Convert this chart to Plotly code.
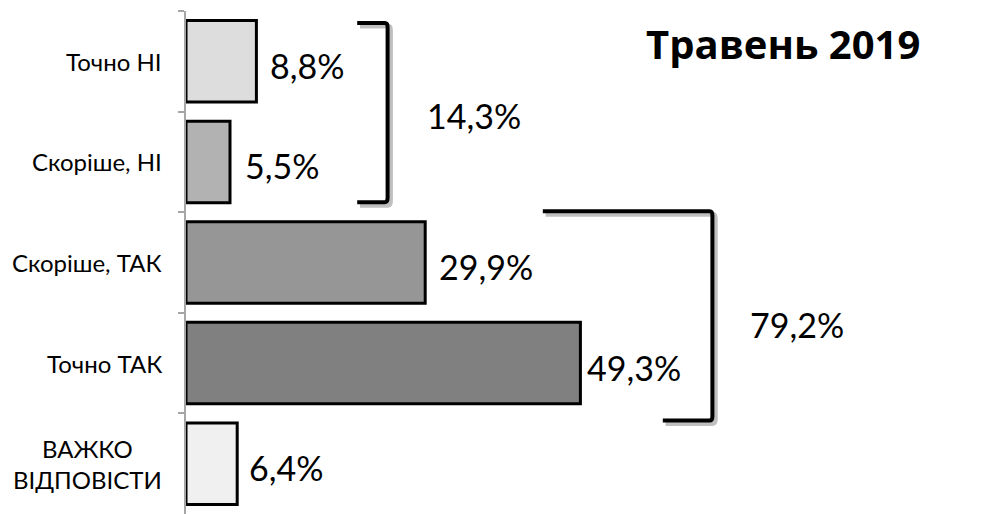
import plotly.graph_objects as go

categories = ["Точно НІ", "Скоріше, НІ", "Скоріше, ТАК", "Точно ТАК", "ВАЖКО<br>ВІДПОВІСТИ"]
values = [8.8, 5.5, 29.9, 49.3, 6.4]
value_labels = ["8,8%", "5,5%", "29,9%", "49,3%", "6,4%"]
bar_colors = ["#dddddd", "#b2b2b2", "#969696", "#808080", "#f0f0f0"]
group_labels = ["14,3%", "79,2%"]
title_text = "Травень 2019"

FONT = "Lato"

fig = go.Figure()
fig.add_trace(go.Bar(
    x=values, y=categories, orientation="h",
    marker=dict(color=bar_colors, line=dict(color="#000000", width=3)),
    width=0.81, hoverinfo="skip", showlegend=False,
))

annotations = []
# value labels
label_shift = [12, 13, 12, 5, 10]
for cat, v, lab, sh in zip(categories, values, value_labels, label_shift):
    annotations.append(dict(
        x=v, y=cat, xref="x", yref="y", text=lab, showarrow=False,
        xanchor="left", yanchor="middle", xshift=sh, yshift=-4,
        font=dict(family=FONT, size=34, color="#000000"),
    ))
# category labels
for cat in categories:
    annotations.append(dict(
        x=0, y=cat, xref="paper", yref="y", text=cat, showarrow=False,
        xanchor="right", yanchor="middle", xshift=-22, align="center",
        font=dict(family=FONT, size=24, color="#000000"),
    ))

# bracket shapes (x in data units, y in category index units)
def bracket(x0, xv, x1, y0, y1, dx=0.0, dy=0.0):
    return (f"M {x0+dx},{y0+dy} L {xv-0.35+dx},{y0+dy} Q {xv+dx},{y0+dy} {xv+dx},{y0+0.04+dy} "
            f"L {xv+dx},{y1-0.04+dy} Q {xv+dx},{y1+dy} {xv-0.35+dx},{y1+dy} L {x1+dx},{y1+dy}")

shapes = []
brackets = [
    (21.4, 25.2, 21.4, -0.38, 1.40),
    (44.6, 65.8, 59.6, 1.49, 3.57),
]
for b in brackets:
    shapes.append(dict(type="path", xref="x", yref="y",
                       path=bracket(*b, dx=0.35, dy=0.03),
                       line=dict(color="rgba(0,0,0,0.25)", width=5)))
for b in brackets:
    shapes.append(dict(type="path", xref="x", yref="y", path=bracket(*b),
                       line=dict(color="#000000", width=4)))

annotations.append(dict(x=29.9, y=0.54, xref="x", yref="y", text=group_labels[0],
                        showarrow=False, xanchor="left", yanchor="middle",
                        font=dict(family=FONT, size=34, color="#000000")))
annotations.append(dict(x=70.2, y=2.62, xref="x", yref="y", text=group_labels[1],
                        showarrow=False, xanchor="left", yanchor="middle",
                        font=dict(family=FONT, size=34, color="#000000")))
annotations.append(dict(x=(782.5 - 186) / 804, y=1 - (43 - 11) / 503,
                        xref="paper", yref="paper", text=f"<b>{title_text}</b>",
                        showarrow=False, xanchor="center", yanchor="middle",
                        font=dict(family="Open Sans", size=40, color="#000000")))

# page body has an 8px default margin, so offset the figure accordingly
fig.update_layout(
    width=982, height=506,
    margin=dict(l=178, r=0, t=3, b=0, autoexpand=False),
    paper_bgcolor="#ffffff", plot_bgcolor="#ffffff",
    xaxis=dict(range=[0, 100.5], visible=False, fixedrange=True),
    yaxis=dict(type="category", categoryorder="array", categoryarray=categories,
               range=[4.5, -0.5], showticklabels=False, showgrid=False, zeroline=False,
               showline=True, linecolor="#a6a6a6", linewidth=2,
               ticks="outside", tickson="boundaries", ticklen=6, tickwidth=2,
               tickcolor="#a6a6a6"),
    annotations=annotations, shapes=shapes,
    bargap=0.19,
)

fig.write_html("out.html")
